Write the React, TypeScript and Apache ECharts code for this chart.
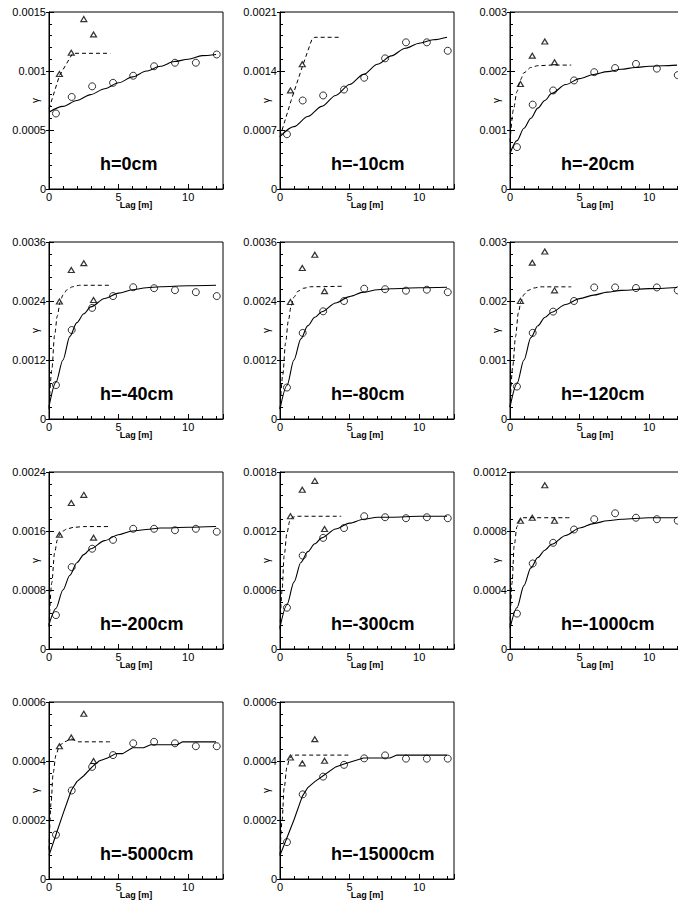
import React, { useEffect, useRef } from "react";
import * as echarts from "echarts";

// ---------- data ----------
const TITLES = ["h=0cm", "h=-10cm", "h=-20cm", "h=-40cm", "h=-80cm", "h=-120cm", "h=-200cm", "h=-300cm", "h=-1000cm", "h=-5000cm", "h=-15000cm"];
const Y_MAX = [0.0015, 0.0021, 0.003, 0.0036, 0.0036, 0.003, 0.0024, 0.0018, 0.0012, 0.0006, 0.0006];
const Y_STEP = [0.0005, 0.0007, 0.001, 0.0012, 0.0012, 0.001, 0.0008, 0.0006, 0.0004, 0.0002, 0.0002];
const X_MAX = 12.5;
const X_LABEL_STEP = 5;

const LAG_CIRCLE = [0.5, 1.63, 3.1, 4.6, 6.05, 7.55, 9.05, 10.55, 12.05];
const LAG_TRIANGLE = [0.75, 1.6, 2.5, 3.2];

const circles_h0 = [0.00064, 0.00078, 0.00087, 0.0009, 0.00096, 0.00104, 0.00107, 0.00107, 0.00114];
const circles_h10 = [0.00065, 0.00105, 0.00111, 0.00118, 0.00132, 0.00155, 0.00174, 0.00174, 0.00164];
const circles_h20 = [0.00071, 0.00143, 0.00167, 0.00184, 0.00198, 0.00205, 0.00212, 0.00204, 0.00193];
const circles_h40 = [0.00069, 0.00181, 0.00226, 0.0025, 0.00268, 0.00266, 0.00262, 0.00258, 0.0025];
const circles_h80 = [0.00064, 0.00175, 0.00219, 0.0024, 0.00265, 0.00264, 0.00261, 0.00263, 0.00258];
const circles_h120 = [0.00055, 0.00146, 0.00182, 0.002, 0.00223, 0.00223, 0.00222, 0.00223, 0.00218];
const circles_h200 = [0.00046, 0.00111, 0.00136, 0.00148, 0.00163, 0.00163, 0.00161, 0.00163, 0.00159];
const circles_h300 = [0.00042, 0.00095, 0.00113, 0.00123, 0.00135, 0.00134, 0.00133, 0.00134, 0.00133];
const circles_h1000 = [0.00024, 0.00058, 0.00072, 0.00081, 0.00088, 0.00092, 0.00089, 0.00088, 0.00087];
const circles_h5000 = [0.00015, 0.0003, 0.00038, 0.00042, 0.00046, 0.000465, 0.00046, 0.00045, 0.00045];
const circles_h15000 = [0.000125, 0.000287, 0.000347, 0.000387, 0.000409, 0.000419, 0.000408, 0.000408, 0.000408];

const triangles_h0 = [0.000975, 0.001155, 0.00144, 0.00131];
const triangles_h10 = [0.00117, 0.00148, null, null];
const triangles_h20 = [0.00178, 0.00226, 0.0025, 0.00215];
const triangles_h40 = [0.00239, 0.00303, 0.00317, 0.00242];
const triangles_h80 = [0.00238, 0.00307, 0.00334, 0.0026];
const triangles_h120 = [0.002, 0.00265, 0.00284, 0.00218];
const triangles_h200 = [0.00155, 0.00198, 0.00209, 0.00151];
const triangles_h300 = [0.00135, 0.00162, 0.00171, 0.00122];
const triangles_h1000 = [0.00087, 0.00089, 0.00111, 0.00087];
const triangles_h5000 = [0.00045, 0.00048, 0.00056, 0.0004];
const triangles_h15000 = [0.000412, 0.000392, 0.000474, 0.000401];

const dashed_h0 = [[0, 0.00068], [0.75, 0.00096], [1.7, 0.00115], [4.4, 0.00115]];
const dashed_h10 = [[0, 0.00062], [0.8, 0.00105], [1.6, 0.00145], [2.3, 0.00178], [2.5, 0.0018], [4.4, 0.0018]];
const dashed_h20 = [[0, 0.0008], [0.25, 0.00135], [0.5, 0.00165], [0.75, 0.00185], [1, 0.00197], [1.5, 0.00206], [2, 0.00209], [3, 0.0021], [4.4, 0.0021]];
const dashed_h40 = [[0, 0.0002], [0.2, 0.001], [0.4, 0.0017], [0.6, 0.0021], [0.8, 0.00238], [1, 0.00252], [1.3, 0.00263], [1.7, 0.00269], [2.2, 0.00272], [4.4, 0.00272]];
const dashed_h80 = [[0, 0.0002], [0.2, 0.0009], [0.4, 0.00155], [0.6, 0.002], [0.8, 0.0023], [1, 0.00248], [1.3, 0.0026], [1.7, 0.00266], [2.2, 0.00269], [4.6, 0.0027]];
const dashed_h120 = [[0, 0.0002], [0.2, 0.0009], [0.4, 0.0014], [0.6, 0.0018], [0.8, 0.002], [1, 0.00211], [1.3, 0.00218], [1.7, 0.00222], [2.2, 0.00224], [4.4, 0.00224]];
const dashed_h200 = [[0, 0.0003], [0.2, 0.0009], [0.4, 0.0013], [0.6, 0.00148], [0.8, 0.00156], [1, 0.0016], [1.3, 0.00163], [1.8, 0.00165], [2.5, 0.00166], [4.4, 0.00166]];
const dashed_h300 = [[0, 0.0002], [0.15, 0.0006], [0.3, 0.00095], [0.5, 0.00118], [0.7, 0.0013], [0.9, 0.00134], [1.2, 0.00135], [4.4, 0.00135]];
const dashed_h1000 = [[0, 0.00015], [0.15, 0.00045], [0.3, 0.0007], [0.5, 0.00083], [0.7, 0.00087], [0.9, 0.00089], [4.4, 0.00089]];
const dashed_h5000 = [[0, 0.0001], [0.15, 0.00026], [0.3, 0.00036], [0.5, 0.00042], [0.75, 0.000452], [1.1, 0.000465], [1.6, 0.000475], [2.1, 0.000465], [4.4, 0.000465]];
const dashed_h15000 = [[0, 0.00008], [0.15, 0.0002], [0.3, 0.00031], [0.5, 0.00038], [0.7, 0.00041], [0.9, 0.00042], [5, 0.00042]];

const solid_h0 = [[0, 0.00065], [1, 0.0007], [2, 0.00075], [3, 0.0008], [4, 0.00085], [5, 0.0009], [6, 0.00095], [7, 0.001], [8, 0.00104], [9, 0.00108], [10, 0.0011], [11, 0.00113], [12, 0.00114]];
const solid_h10 = [[0, 0.00062], [1, 0.00074], [2, 0.00086], [3, 0.00098], [4, 0.00111], [5, 0.00124], [6, 0.00136], [7, 0.00148], [8, 0.00158], [9, 0.00167], [10, 0.00173], [11, 0.00177], [12, 0.0018]];
const solid_h20 = [[0, 0.0006], [0.5, 0.00082], [1, 0.00103], [1.5, 0.0012], [2, 0.00137], [2.5, 0.0015], [3, 0.00162], [4, 0.00177], [5, 0.00187], [6, 0.00194], [7, 0.00199], [8, 0.00203], [9, 0.00206], [10, 0.00208], [11, 0.00209], [12, 0.0021]];
const solid_h40 = [[0, 0.00025], [0.5, 0.00075], [1, 0.0012], [1.5, 0.00168], [2, 0.00196], [2.5, 0.00214], [3, 0.00228], [4, 0.00245], [5, 0.00256], [6, 0.00263], [7, 0.00267], [8, 0.00269], [10, 0.00271], [12, 0.00272]];
const solid_h80 = [[0, 0.0002], [0.5, 0.00068], [1, 0.0012], [1.5, 0.00163], [2, 0.0019], [2.5, 0.00207], [3, 0.00218], [4, 0.00236], [5, 0.00249], [6, 0.00258], [7, 0.00263], [8, 0.00265], [10, 0.00267], [12, 0.00268]];
const solid_h120 = [[0, 0.0002], [0.5, 0.0006], [1, 0.001], [1.5, 0.00138], [2, 0.00158], [2.5, 0.00172], [3, 0.00181], [4, 0.00194], [5, 0.00204], [6, 0.0021], [7, 0.00215], [8, 0.00218], [10, 0.00221], [12, 0.00223]];
const solid_h200 = [[0, 0.00033], [0.5, 0.00055], [1, 0.0008], [1.5, 0.001], [2, 0.00117], [2.5, 0.00128], [3, 0.00136], [4, 0.00147], [5, 0.00155], [6, 0.0016], [7, 0.00162], [8, 0.00164], [10, 0.00165], [12, 0.00166]];
const solid_h300 = [[0, 0.00022], [0.5, 0.00045], [1, 0.00068], [1.5, 0.00088], [2, 0.00099], [2.5, 0.00107], [3, 0.00113], [4, 0.00122], [5, 0.00128], [6, 0.00132], [7, 0.00134], [8, 0.00134], [10, 0.00135], [12, 0.00135]];
const solid_h1000 = [[0, 0.00014], [0.5, 0.00028], [1, 0.00043], [1.5, 0.00055], [2, 0.00062], [2.5, 0.00067], [3, 0.00071], [4, 0.00077], [5, 0.00082], [6, 0.00085], [7, 0.00087], [8, 0.00088], [10, 0.00089], [12, 0.00089]];
const solid_h5000 = [[0, 0.00008], [0.5, 0.00015], [1, 0.00022], [1.6, 0.0003], [2, 0.00033], [2.5, 0.00035], [3.1, 0.00038], [3.6, 0.0004], [4.2, 0.00041], [4.8, 0.000425], [5.3, 0.000425], [6, 0.000445], [6.8, 0.000445], [7.3, 0.000455], [9.2, 0.000455], [9.6, 0.000465], [12, 0.000465]];
const solid_h15000 = [[0, 0.00008], [0.5, 0.00014], [1, 0.0002], [1.6, 0.00028], [2, 0.00031], [2.5, 0.00033], [3.1, 0.00035], [4, 0.00038], [4.6, 0.00039], [5.3, 0.0004], [6, 0.00041], [7.9, 0.00041], [8.4, 0.00042], [12, 0.00042]];

const CIRCLES = [circles_h0, circles_h10, circles_h20, circles_h40, circles_h80, circles_h120, circles_h200, circles_h300, circles_h1000, circles_h5000, circles_h15000];
const TRIANGLES = [triangles_h0, triangles_h10, triangles_h20, triangles_h40, triangles_h80, triangles_h120, triangles_h200, triangles_h300, triangles_h1000, triangles_h5000, triangles_h15000];
const DASHED = [dashed_h0, dashed_h10, dashed_h20, dashed_h40, dashed_h80, dashed_h120, dashed_h200, dashed_h300, dashed_h1000, dashed_h5000, dashed_h15000];
const SOLID = [solid_h0, solid_h10, solid_h20, solid_h40, solid_h80, solid_h120, solid_h200, solid_h300, solid_h1000, solid_h5000, solid_h15000];
// panels whose fitted curve is a plain polyline
const POLYLINE_PANEL = [false, false, false, false, false, false, false, false, false, true, true];

// ---------- layout ----------
const COL_LEFT = [49, 280, 510];
const ROW_TOP = [12, 242, 472, 702];
const PW = 174;
const PH = 177;
const FONT = "Liberation Sans, Arial, Helvetica, sans-serif";

const fmtY = (v: number) => (v === 0 ? "0" : String(parseFloat(v.toPrecision(6))));

function buildOption() {
  const grid: any[] = [];
  const xAxis: any[] = [];
  const yAxis: any[] = [];
  const series: any[] = [];
  const graphic: any[] = [];

  TITLES.forEach((title, i) => {
    const left = COL_LEFT[i % 3];
    const top = ROW_TOP[Math.floor(i / 3)];
    grid.push({ left, top, width: PW, height: PH, show: true, borderColor: "#000", borderWidth: 1, backgroundColor: "transparent", containLabel: false });

    xAxis.push({
      gridIndex: i, type: "value", position: "bottom", min: 0, max: X_MAX, interval: 1,
      axisLine: { show: true, onZero: false, lineStyle: { color: "#000", width: 1 } },
      axisTick: { show: true, inside: true, length: 3, lineStyle: { color: "#000", width: 1 } },
      axisLabel: {
        color: "#000", fontSize: 11, fontFamily: FONT, margin: 2, showMaxLabel: false,
        formatter: (v: number) => (Math.abs(v % X_LABEL_STEP) < 1e-9 ? String(v) : ""),
      },
      splitLine: { show: false },
      name: "Lag [m]", nameLocation: "middle", nameGap: 11, nameMoveOverlap: false,
      nameTextStyle: { color: "#000", fontSize: 9, fontWeight: "bold", fontFamily: FONT },
    });
    xAxis.push({
      gridIndex: i, type: "value", position: "bottom", min: 0, max: X_MAX, interval: X_LABEL_STEP,
      axisLine: { show: false },
      axisTick: { show: true, inside: true, length: 5, lineStyle: { color: "#000", width: 1 } },
      axisLabel: { show: false }, splitLine: { show: false },
    });

    yAxis.push({
      gridIndex: i, type: "value", position: "left", min: 0, max: Y_MAX[i], interval: Y_STEP[i],
      axisLine: { show: true, onZero: false, lineStyle: { color: "#000", width: 1 } },
      axisTick: { show: true, inside: true, length: 5, lineStyle: { color: "#000", width: 1 } },
      minorTick: { show: true, splitNumber: 5, length: 3, lineStyle: { color: "#000", width: 1 } },
      axisLabel: { color: "#000", fontSize: 11, fontFamily: FONT, margin: 3, formatter: fmtY },
      splitLine: { show: false }, minorSplitLine: { show: false },
      name: "γ", nameLocation: "middle", nameGap: 9, nameRotate: 90, nameMoveOverlap: false,
      nameTextStyle: { color: "#000", fontSize: 10, fontFamily: FONT },
    });
    yAxis.push({
      gridIndex: i, type: "value", position: "left", min: 0, max: Y_MAX[i], interval: Y_STEP[i],
      axisLine: { show: false },
      axisTick: { show: true, inside: false, length: 3, lineStyle: { color: "#000", width: 1 } },
      axisLabel: { show: false }, splitLine: { show: false },
    });

    const xi = 2 * i;
    const yi = 2 * i;
    const smooth = POLYLINE_PANEL[i] ? false : 0.3;
    series.push({
      type: "line", xAxisIndex: xi, yAxisIndex: yi, data: SOLID[i], symbol: "none", showSymbol: false,
      smooth, smoothMonotone: "x", lineStyle: { color: "#000", width: 1.1 }, itemStyle: { color: "#000" }, z: 2,
    });
    series.push({
      type: "line", xAxisIndex: xi, yAxisIndex: yi, data: DASHED[i], symbol: "none", showSymbol: false,
      smooth: i < 2 ? false : 0.3, smoothMonotone: "x",
      lineStyle: { color: "#000", width: 1, type: [4, 3] }, itemStyle: { color: "#000" }, z: 2,
    });
    series.push({
      type: "scatter", xAxisIndex: xi, yAxisIndex: yi,
      data: LAG_CIRCLE.map((x, j) => [x, CIRCLES[i][j]]),
      symbol: "circle", symbolSize: 7,
      itemStyle: { color: "rgba(255,255,255,0)", borderColor: "#000", borderWidth: 1 }, z: 3,
    });
    series.push({
      type: "scatter", xAxisIndex: xi, yAxisIndex: yi,
      data: LAG_TRIANGLE.map((x, j) => [x, TRIANGLES[i][j]]).filter((d) => d[1] !== null),
      symbol: "triangle", symbolSize: [6, 5],
      itemStyle: { color: "rgba(255,255,255,0)", borderColor: "#000", borderWidth: 1.2 }, z: 3,
    });

    graphic.push({
      type: "text", left: left + 51, top: top + 143,
      style: { text: title, fill: "#000", font: `bold 18px ${FONT}` },
      z: 10,
    });
  });

  return {
    animation: false,
    backgroundColor: "#fff",
    textStyle: { fontFamily: FONT },
    grid, xAxis, yAxis, series, graphic,
  };
}

export default function App() {
  const ref = useRef<HTMLDivElement>(null);
  useEffect(() => {
    if (!ref.current) return;
    const chart = echarts.init(ref.current, undefined, { renderer: "svg" });
    chart.setOption(buildOption() as any);
    return () => chart.dispose();
  }, []);
  return (
    <div style={{ position: "absolute", left: 0, top: 0, width: 678, height: 906, overflow: "hidden", background: "#fff" }}>
      <div ref={ref} style={{ width: 700, height: 906 }} />
    </div>
  );
}
